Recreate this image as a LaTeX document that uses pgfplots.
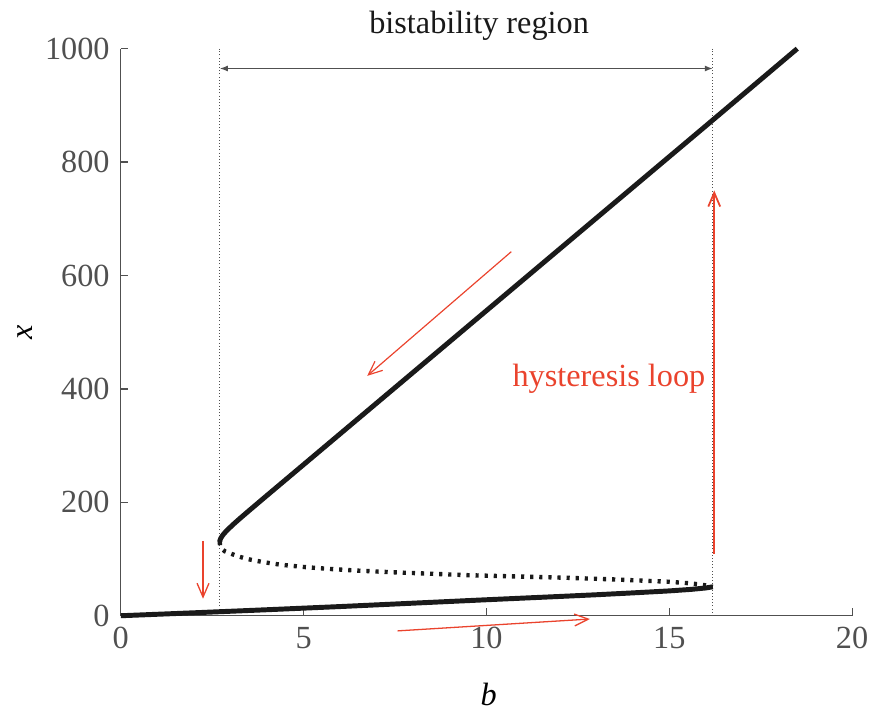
\documentclass[border=0pt]{standalone}
\usepackage{fontspec}
\setmainfont{Liberation Serif}
\usepackage{pgfplots}
\pgfplotsset{compat=1.18}
\usetikzlibrary{arrows.meta}
\definecolor{hred}{RGB}{234,67,45}
\definecolor{axgray}{RGB}{80,80,80}
\definecolor{curve}{RGB}{26,26,26}
\begin{document}
\fontsize{16.3}{19}\selectfont
\begin{tikzpicture}
\begin{axis}[
  scale only axis, width=369.5pt, height=286.5pt,
  xmin=0, xmax=20, ymin=0, ymax=1000,
  axis lines=left,
  axis line style={-, draw=axgray, line width=0.6pt},
  tick align=inside, major tick length=3.8pt,
  tick style={axgray, line width=0.6pt},
  xtick={0,5,10,15,20}, ytick={0,200,400,600,800,1000},
  ticklabel style={font=\fontsize{16.3}{19}\selectfont, text=axgray},
  /pgf/number format/assume math mode=true,
  scaled y ticks=false,
  y tick label style={/pgf/number format/1000 sep={}},
  xlabel={\textit{b}}, ylabel={\textit{x}},
  label style={font=\fontsize{16.3}{19}\selectfont},
  xlabel style={at={(axis description cs:0.503,-0.138)}, anchor=center},
  ylabel style={at={(axis description cs:-0.131,0.5)}, anchor=center},
  clip=false,
]
% bounding box matching reference margins
\path (rel axis cs:-0.1651,-0.1640) rectangle (rel axis cs:1.0244,1.0803);

% vertical dotted lines
\addplot[axgray, line width=0.4pt, dash pattern=on 0.4pt off 1.2pt] coordinates {(2.71,0) (2.71,1000)};
\addplot[axgray, line width=0.4pt, dash pattern=on 0.4pt off 1.2pt] coordinates {(16.19,0) (16.19,1000)};

% double arrow (bistability region)
\addplot[axgray, line width=0.6pt, {Latex[length=4pt,width=3pt]}-{Latex[length=4pt,width=3pt]}] coordinates {(2.71,965) (16.19,965)};

% upper stable branch
\addplot[curve, line width=2.5pt, line join=round] coordinates {
(2.707,130) (2.713,133) (2.731,136) (2.766,140) (2.826,145) (2.897,150) (3.058,160) (3.232,170) (3.502,185)
(4,212.2) (5,266.5) (6,320.8) (8,429.4) (10,538) (12,646.6) (14,755.2) (16,863.8) (18.5,1000)};

% unstable branch (dotted)
\addplot[curve, line width=2.2pt, dash pattern=on 1.6pt off 3pt] coordinates {
(2.707,130) (2.715,124) (2.76,118) (2.85,113.5) (3.01,109.5) (3.2,105) (3.46,100) (3.9,94.5) (4.37,90) (5,86)
(5.72,82.5) (6.5,79.5) (7.5,76.5) (8.12,75) (9.5,71.5) (10.5,69.8) (12.18,67) (13.5,64) (14.97,60)
(15.5,57.5) (15.8,55.5) (16.05,53) (16.19,51)};

% lower stable branch
\addplot[curve, line width=2.5pt, line join=round] coordinates {
(0,0) (2,5.2) (4,10.6) (6,16.2) (8,22.2) (10,28.2) (12,34) (13,37) (14,40.3) (15,43.8) (15.6,46.5) (16,49) (16.19,51)};

% red arrows
\addplot[hred, line width=0.65pt, -{Straight Barb[length=7pt,width=6pt]}] coordinates {(2.25,132) (2.25,30)};
\addplot[hred, line width=0.6pt, -{Straight Barb[length=7pt,width=6pt]}] coordinates {(10.68,642) (6.74,423)};
\addplot[hred, line width=0.65pt, -{Straight Barb[length=7pt,width=6pt]}] coordinates {(7.57,-26.7) (12.83,-5.8)};
\addplot[hred, line width=0.9pt, -{Straight Barb[length=7pt,width=6pt]}] coordinates {(16.23,109) (16.23,750)};

% texts
\node[text=black!90] at (axis cs:9.8,1041) {bistability region};
\node[text=hred] at (axis cs:13.35,417) {hysteresis loop};
\end{axis}
\end{tikzpicture}
\end{document}
